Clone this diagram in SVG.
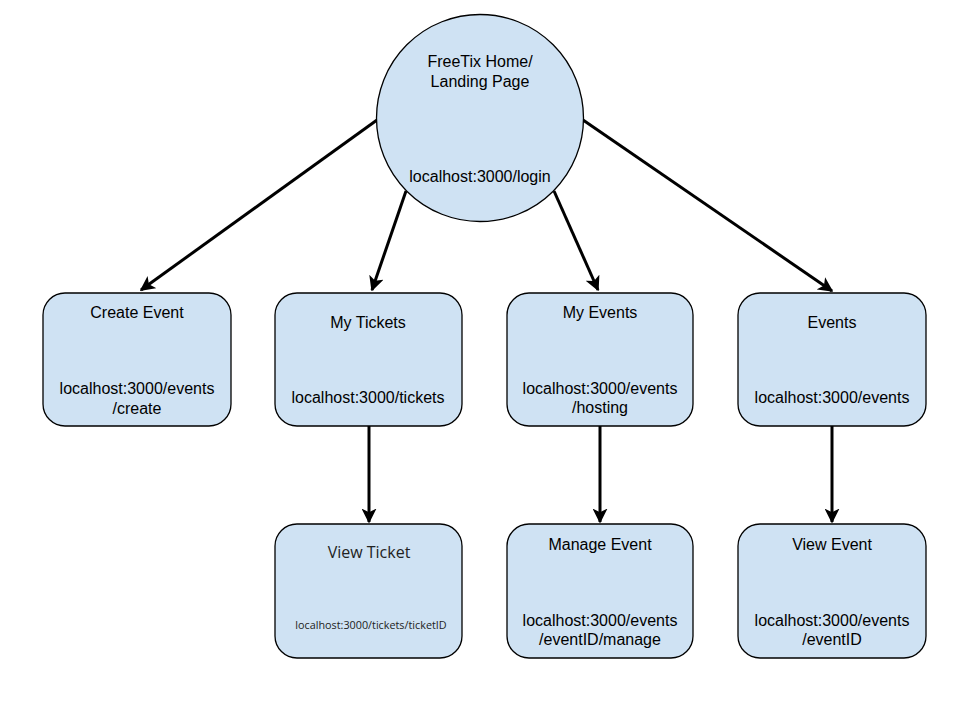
<svg xmlns="http://www.w3.org/2000/svg" width="960" height="720" viewBox="0 0 960 720">
<style>
.n{fill:#cfe2f3;stroke:#000;stroke-width:1.3}
.t{font-family:"Liberation Sans",Arial,sans-serif;font-size:16px;fill:#000;text-anchor:middle}
.o{font-family:"Open Sans",sans-serif;fill:#222;text-anchor:middle}
.c{stroke:#000;stroke-width:3;fill:none;marker-end:url(#a)}
</style>
<defs>
<marker id="a" viewBox="0 0 10 10" refX="9" refY="5" markerWidth="5" markerHeight="5" orient="auto" markerUnits="strokeWidth">
<path d="M0,0 L10,5 L0,10 L2.5,5 z" fill="#000"/>
</marker>
</defs>
<rect width="960" height="720" fill="#fff"/>
<g id="connectors">
<line class="c" x1="377" y1="120" x2="141" y2="290"/>
<line class="c" x1="406" y1="191" x2="372" y2="290"/>
<line class="c" x1="554" y1="191" x2="598" y2="290"/>
<line class="c" x1="583" y1="120" x2="832" y2="291"/>
<line class="c" x1="369" y1="426" x2="369" y2="522"/>
<line class="c" x1="600" y1="426" x2="600" y2="522"/>
<line class="c" x1="832" y1="426" x2="832" y2="522"/>
</g>
<g id="home">
<circle class="n" cx="480" cy="118" r="103.5"/>
<text class="t" x="480" y="67">FreeTix Home/</text>
<text class="t" x="480" y="87">Landing Page</text>
<text class="t" x="480" y="182">localhost:3000/login</text>
</g>
<g id="create">
<rect class="n" x="43" y="293" width="188" height="133" rx="22"/>
<text class="t" x="137" y="318">Create Event</text>
<text class="t" x="137" y="394">localhost:3000/events</text>
<text class="t" x="137" y="414">/create</text>
</g>
<g id="mytickets">
<rect class="n" x="275" y="293" width="187" height="133" rx="22"/>
<text class="t" x="368" y="328">My Tickets</text>
<text class="t" x="368" y="403">localhost:3000/tickets</text>
</g>
<g id="myevents">
<rect class="n" x="507" y="293" width="186" height="133" rx="22"/>
<text class="t" x="600" y="318">My Events</text>
<text class="t" x="600" y="394">localhost:3000/events</text>
<text class="t" x="600" y="413">/hosting</text>
</g>
<g id="events">
<rect class="n" x="738" y="293" width="188" height="133" rx="22"/>
<text class="t" x="832" y="328">Events</text>
<text class="t" x="832" y="403">localhost:3000/events</text>
</g>
<g id="viewticket">
<rect class="n" x="275" y="524" width="187" height="134" rx="22"/>
<text class="o" x="369" y="558" font-size="16">View Ticket</text>
<text class="o" x="371" y="629" font-size="10.8">localhost:3000/tickets/ticketID</text>
</g>
<g id="manage">
<rect class="n" x="507" y="524" width="186" height="134" rx="22"/>
<text class="t" x="600" y="550">Manage Event</text>
<text class="t" x="600" y="626">localhost:3000/events</text>
<text class="t" x="600" y="645">/eventID/manage</text>
</g>
<g id="viewevent">
<rect class="n" x="738" y="524" width="188" height="134" rx="22"/>
<text class="t" x="832" y="550">View Event</text>
<text class="t" x="832" y="626">localhost:3000/events</text>
<text class="t" x="832" y="645">/eventID</text>
</g>
</svg>
